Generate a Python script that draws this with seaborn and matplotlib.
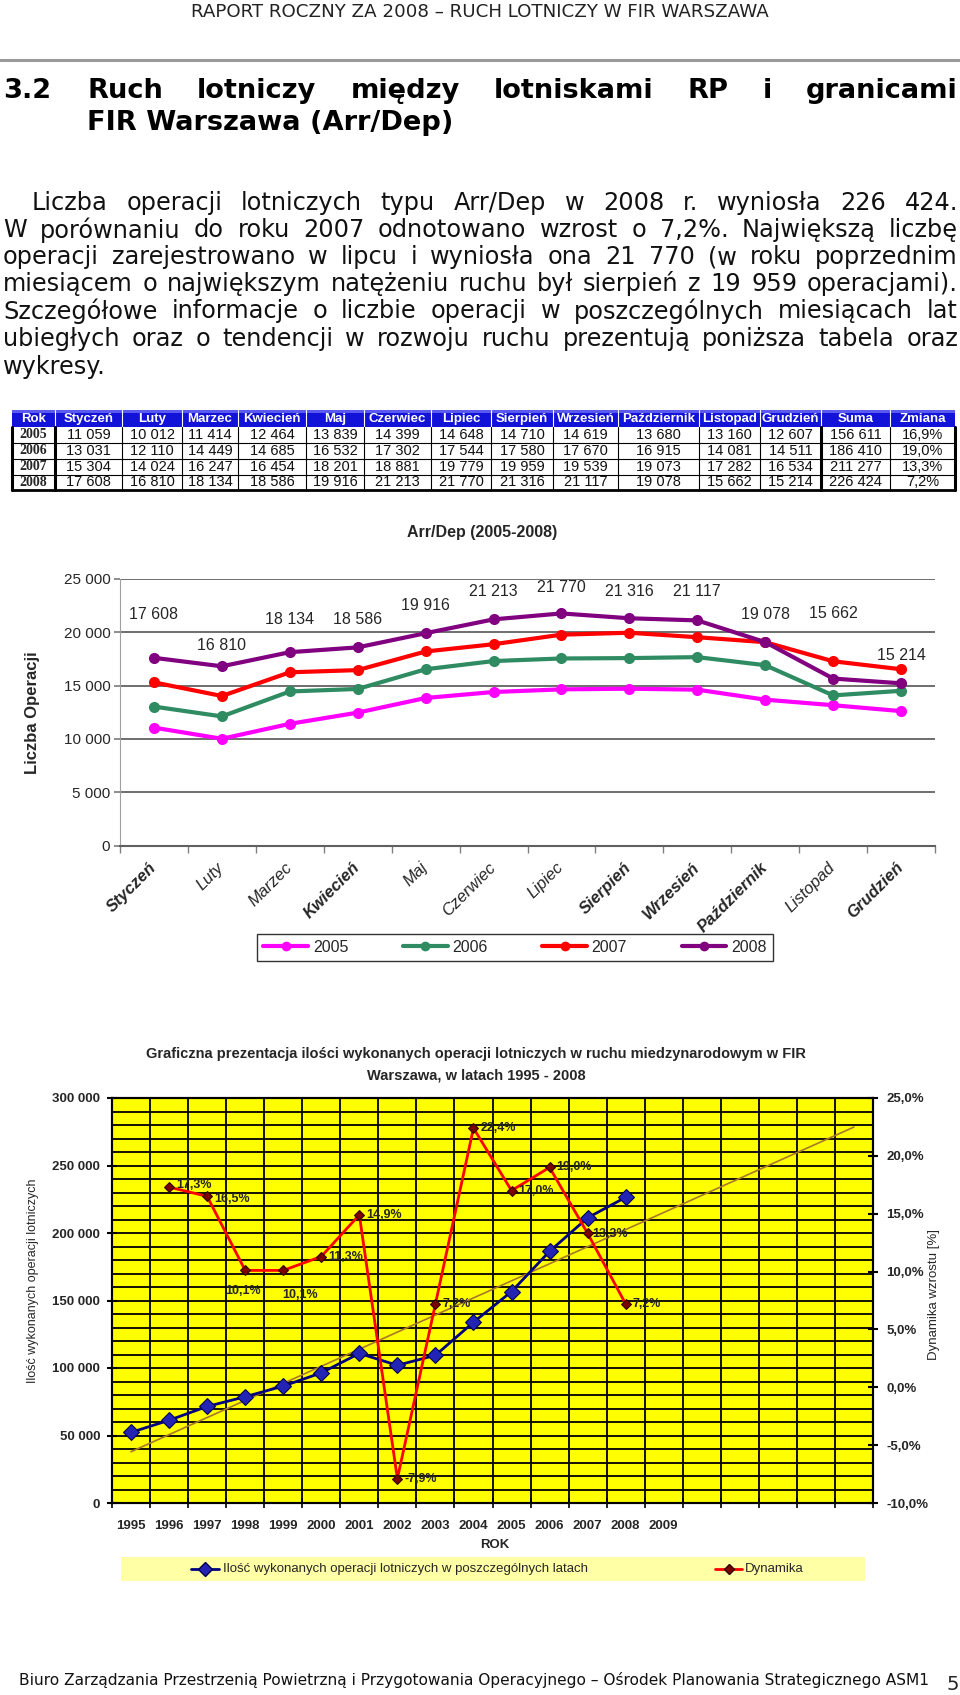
import numpy as np
import pandas as pd
import matplotlib
matplotlib.use("Agg")
import matplotlib.pyplot as plt
import seaborn as sns
from matplotlib.lines import Line2D
from matplotlib.patches import Rectangle

# ------------------------------------------------------------------ data
months = ["Styczeń", "Luty", "Marzec", "Kwiecień", "Maj", "Czerwiec", "Lipiec",
          "Sierpień", "Wrzesień", "Październik", "Listopad", "Grudzień"]
years_monthly = [2005, 2006, 2007, 2008]
ops_2005 = [11059, 10012, 11414, 12464, 13839, 14399, 14648, 14710, 14619, 13680, 13160, 12607]
ops_2006 = [13031, 12110, 14449, 14685, 16532, 17302, 17544, 17580, 17670, 16915, 14081, 14511]
ops_2007 = [15304, 14024, 16247, 16454, 18201, 18881, 19779, 19959, 19539, 19073, 17282, 16534]
ops_2008 = [17608, 16810, 18134, 18586, 19916, 21213, 21770, 21316, 21117, 19078, 15662, 15214]
year_sums = [156611, 186410, 211277, 226424]
year_change = [16.9, 19.0, 13.3, 7.2]

years_annual = [1995, 1996, 1997, 1998, 1999, 2000, 2001, 2002, 2003, 2004, 2005, 2006, 2007, 2008]
ops_annual = [52300, 61300, 71500, 78700, 86600, 96400, 110800, 102000, 109400, 133900,
              156611, 186410, 211277, 226424]
dyn_years = [1996, 1997, 1998, 1999, 2000, 2001, 2002, 2003, 2004, 2005, 2006, 2007, 2008]
dyn_values = [17.3, 16.5, 10.1, 10.1, 11.3, 14.9, -7.9, 7.2, 22.4, 17.0, 19.0, 13.3, 7.2]
axis_years = list(range(1995, 2015))          # 20 category bands on the x axis
axis_year_labels = [str(y) if y <= 2009 else "" for y in axis_years]

# ------------------------------------------------------------------ layout / style
sns.set_theme(style="white")
plt.rcParams["font.family"] = ["Liberation Sans", "DejaVu Sans"]
W, H, DPI = 960, 1695, 100
fig = plt.figure(figsize=(W / DPI, H / DPI), dpi=DPI)
fig.patch.set_facecolor("white")

page = fig.add_axes([0, 0, 1, 1])
page.set_xlim(0, W)
page.set_ylim(H, 0)
page.axis("off")
R = fig.canvas.get_renderer()


def add_axes_px(x0, y0, x1, y1):
    return fig.add_axes([x0 / W, 1 - y1 / H, (x1 - x0) / W, (y1 - y0) / H])


def measure(s, **kw):
    t = page.text(0, 0, s, **kw)
    w = t.get_window_extent(renderer=R).width
    t.remove()
    return w


def fit_size(s, width, **kw):
    return 10 * width / measure(s, fontsize=10, **kw)


def justify(line, x0, x1, y, **kw):
    words = line.split(" ")
    widths = [measure(w, **kw) for w in words]
    gap = (x1 - x0 - sum(widths)) / max(len(words) - 1, 1)
    x = x0
    for w, wd in zip(words, widths):
        page.text(x, y, w, ha="left", va="center", **kw)
        x += wd + gap


def fmt_int(v):
    return f"{v:,}".replace(",", " ")


SANS = ["DejaVu Sans"]

# ------------------------------------------------------------------ page header
hdr = "RAPORT ROCZNY ZA 2008 – RUCH LOTNICZY W FIR WARSZAWA"
page.text(480, 12, hdr, ha="center", va="center", family=SANS,
          fontsize=fit_size(hdr, 579, family=SANS), color="#222222")
page.plot([0, W], [60, 60], color="#9a9a9a", lw=2.2)

hkw = dict(family=SANS, fontweight="bold", color="black")
hsize = fit_size("FIR Warszawa (Arr/Dep)", 368, **hkw)
page.text(3, 91, "3.2", ha="left", va="center", fontsize=hsize, **hkw)
justify("Ruch lotniczy między lotniskami RP i granicami", 87, 958, 91, fontsize=hsize, **hkw)
page.text(87, 123, "FIR Warszawa (Arr/Dep)", ha="left", va="center", fontsize=hsize, **hkw)

para = [
    "Liczba operacji lotniczych typu Arr/Dep w 2008 r. wyniosła 226 424.",
    "W porównaniu do roku 2007 odnotowano wzrost o 7,2%. Największą liczbę",
    "operacji zarejestrowano w lipcu i wyniosła ona 21 770 (w roku poprzednim",
    "miesiącem o największym natężeniu ruchu był sierpień z 19 959 operacjami).",
    "Szczegółowe informacje o liczbie operacji w poszczególnych miesiącach lat",
    "ubiegłych oraz o tendencji w rozwoju ruchu prezentują poniższa tabela oraz",
    "wykresy.",
]
para_y = [203, 230, 257, 284, 311, 339, 367]
psize = fit_size(para[3], 935, family=SANS)
for i, (line, y) in enumerate(zip(para, para_y)):
    if i == len(para) - 1:
        page.text(3, y, line, ha="left", va="center", family=SANS, fontsize=psize, color="#111111")
    else:
        justify(line, 32 if i == 0 else 3, 958, y, family=SANS, fontsize=psize, color="#111111")

# ------------------------------------------------------------------ table
col_x = [12, 55, 122, 182, 238, 306, 364, 431, 491, 553, 618, 699, 760, 821, 890, 955]
row_y = [410, 427, 443, 459, 475, 490]
headers = ["Rok"] + months + ["Suma", "Zmiana"]
page.add_patch(Rectangle((col_x[0], row_y[0]), col_x[-1] - col_x[0], row_y[1] - row_y[0],
                         fc="#1212D8", ec="none"))
page.add_patch(Rectangle((col_x[0], row_y[0]), col_x[-1] - col_x[0], 3, fc="#5a5af0", ec="none"))
for j, h in enumerate(headers):
    cx = (col_x[j] + col_x[j + 1]) / 2
    page.text(cx, (row_y[0] + row_y[1]) / 2 + 0.5, h, ha="center", va="center",
              color="white", fontweight="bold", fontsize=9.5)
    if j > 0:
        page.plot([col_x[j], col_x[j]], [row_y[0], row_y[1]], color="white", lw=0.8)
monthly = [ops_2005, ops_2006, ops_2007, ops_2008]
for i, yr in enumerate(years_monthly):
    cy = (row_y[i + 1] + row_y[i + 2]) / 2
    cells = [str(yr)] + [fmt_int(v) for v in monthly[i]] + [fmt_int(year_sums[i]),
                                                            f"{year_change[i]:.1f}%".replace(".", ",")]
    for j, c in enumerate(cells):
        cx = (col_x[j] + col_x[j + 1]) / 2
        if j == 0:
            page.text(cx, cy, c, ha="center", va="center", family=["Liberation Serif"],
                      fontweight="bold", fontsize=10)
        else:
            page.text(cx, cy, c, ha="center", va="center", fontsize=10.5, color="#111111")
for y in row_y[2:-1]:
    page.plot([col_x[0], col_x[-1]], [y, y], color="black", lw=0.8)
page.plot([col_x[0], col_x[-1]], [row_y[-1], row_y[-1]], color="black", lw=2)
for j, x in enumerate(col_x):
    lw = 2.2 if j in (0, 1, 13, 15) else 0.8
    page.plot([x, x], [row_y[1], row_y[-1]], color="black", lw=lw)

# ------------------------------------------------------------------ chart 1: Arr/Dep monthly
pal = {2005: "#FF00FF", 2006: "#2E8B62", 2007: "#FF0000", 2008: "#800080"}
long = pd.DataFrame({
    "idx": np.tile(np.arange(len(months)), len(years_monthly)),
    "value": ops_2005 + ops_2006 + ops_2007 + ops_2008,
    "year": np.repeat(years_monthly, len(months)),
})
ax1 = add_axes_px(120, 579, 935, 845.5)
sns.lineplot(data=long, x="idx", y="value", hue="year", palette=pal, marker="o",
             markersize=8, markeredgewidth=0, linewidth=3, legend=False, ax=ax1, sort=False)
ax1.set_xlim(-0.5, len(months) - 0.5)
ax1.set_ylim(0, 25000)
ax1.set_yticks(range(0, 25001, 5000))
ax1.set_yticklabels([fmt_int(v) for v in range(0, 25001, 5000)], fontsize=11)
ax1.set_xticks(np.arange(len(months)))
ax1.set_xticklabels(months, rotation=45, ha="right", va="center", rotation_mode="anchor",
                    fontstyle="italic", fontsize=12)
for lbl in ax1.get_xticklabels():
    if any(ch in lbl.get_text() for ch in "ńź"):
        lbl.set_fontweight("bold")
ax1.set_xticks(np.arange(-0.5, len(months)), minor=True)
ax1.tick_params(axis="x", which="major", length=0, pad=14)
ax1.tick_params(axis="x", which="minor", bottom=True, length=5, color="#808080", width=1)
ax1.tick_params(axis="y", left=True, length=4, color="#808080", pad=3)
ax1.grid(False)
ax1.grid(True, axis="y", color="#555555", lw=1.2)
ax1.set_axisbelow(True)
for s in ("top", "right"):
    ax1.spines[s].set_visible(False)
ax1.spines["left"].set_color("#a0a0a0")
ax1.spines["left"].set_linewidth(0.8)
ax1.spines["bottom"].set_color("#606060")
ax1.spines["bottom"].set_linewidth(1.5)
ax1.set_xlabel("")
ax1.set_ylabel("")

label_offsets_px = [43, 21, 33, 28, 28, 28, 26, 27, 29, 28, 65, 28]
for i, v in enumerate(ops_2008):
    ax1.annotate(fmt_int(v), xy=(i, v), xytext=(0, label_offsets_px[i] * 0.72),
                 textcoords="offset points", ha="center", va="center", fontsize=11.5)

page.text(482, 532, "Arr/Dep (2005-2008)", ha="center", va="center",
          fontweight="bold", fontsize=11.5)
page.text(32, 713, "Liczba Operacji", ha="center", va="center", rotation=90,
          fontweight="bold", fontsize=12)

handles = [Line2D([0], [0], color=pal[y], lw=3, marker="o", ms=7, mew=0) for y in years_monthly]
leg1 = fig.legend(handles, [str(y) for y in years_monthly], loc="center",
                  bbox_to_anchor=(257 / W, 1 - 965 / H, 516 / W, 35 / H), mode="expand",
                  ncol=4, frameon=True, fancybox=False, edgecolor="black",
                  handlelength=2.8, handletextpad=0.3, fontsize=11.5, borderaxespad=0)
leg1.get_frame().set_linewidth(1)

# ------------------------------------------------------------------ chart 2: annual traffic
t1 = "Graficzna prezentacja ilości wykonanych operacji lotniczych w ruchu miedzynarodowym w FIR"
t2 = "Warszawa, w latach 1995 - 2008"
page.text(476, 1054, t1, ha="center", va="center", fontweight="bold", fontsize=10.5)
page.text(476, 1076, t2, ha="center", va="center", fontweight="bold", fontsize=10.5)

ax2 = add_axes_px(112, 1098, 873, 1503)
ax2.set_facecolor("#FFFF00")
ann = pd.DataFrame({"idx": [axis_years.index(y) for y in years_annual], "ops": ops_annual})
trend = np.polyfit(ann["idx"], ann["ops"], 1)
tx = np.array([0, len(axis_years) - 1])
ax2.plot(tx, np.polyval(trend, tx), color="#A8782A", lw=1.2, zorder=3)
sns.lineplot(data=ann, x="idx", y="ops", color="#000080", lw=2, marker="D", markersize=8,
             markerfacecolor="#2424B4", markeredgecolor="#000050", ax=ax2, zorder=4)
ax2.set_xlim(-0.5, len(axis_years) - 0.5)
ax2.set_ylim(0, 300000)
ax2.set_yticks(range(0, 300001, 50000))
ax2.set_yticklabels([fmt_int(v) for v in range(0, 300001, 50000)], fontsize=9.5, fontweight="bold")
ax2.set_yticks(range(0, 300001, 10000), minor=True)
ax2.set_xticks(np.arange(len(axis_years)))
ax2.set_xticklabels(axis_year_labels, fontsize=9.5, fontweight="bold")
ax2.set_xticks(np.arange(-0.5, len(axis_years)), minor=True)
ax2.grid(False)
ax2.grid(True, which="both", axis="y", color="black", lw=1.3)
ax2.grid(True, which="minor", axis="x", color="black", lw=1.3)
ax2.set_axisbelow(True)
ax2.tick_params(axis="y", which="major", left=True, length=7, width=1.5, direction="inout", color="black", pad=5)
ax2.tick_params(axis="y", which="minor", left=False, length=0)
ax2.tick_params(axis="x", which="major", bottom=False, length=0, pad=12)
ax2.tick_params(axis="x", which="minor", bottom=True, length=7, width=1.2, direction="inout", color="black")
ax2.set_xlabel("")
ax2.set_ylabel("")

ax3 = ax2.twinx()
dyn = pd.DataFrame({"idx": [axis_years.index(y) for y in dyn_years], "dyn": dyn_values})
sns.lineplot(data=dyn, x="idx", y="dyn", color="#FF0000", lw=2, marker="D", markersize=5,
             markerfacecolor="#7A0000", markeredgecolor="#300000", ax=ax3)
ax3.set_ylim(-10, 25)
ax3.set_yticks(range(-10, 26, 5))
ax3.set_yticklabels([f"{v:.1f}%".replace(".", ",") for v in range(-10, 26, 5)],
                    fontsize=9.5, fontweight="bold")
ax3.tick_params(axis="y", right=True, length=7, width=1.5, direction="inout", color="black", pad=6)
ax3.grid(False)
ax3.set_ylabel("")
ax3.set_xlabel("")
for a in (ax2, ax3):
    for s in a.spines.values():
        s.set_color("black")
        s.set_linewidth(1.5)

dyn_label_offsets_px = [(7, -2), (7, 3), (-20, 21), (-1, 25), (7, 0), (7, 0), (7, 0),
                        (7, 0), (7, 0), (7, 0), (7, 0), (5, 1), (7, 0)]
for (i, v), (dx, dy) in zip(zip(dyn["idx"], dyn_values), dyn_label_offsets_px):
    ax3.annotate(f"{v:.1f}%".replace(".", ","), xy=(i, v), xytext=(dx * 0.72, -dy * 0.72),
                 textcoords="offset points", ha="left", va="center", fontsize=9, fontweight="bold")

page.text(33, 1281, "Ilość wykonanych operacji lotniczych", ha="center", va="center",
          rotation=90, fontsize=9)
page.text(934, 1295, "Dynamika wzrostu [%]", ha="center", va="center", rotation=90, fontsize=9.5)
page.text(495, 1545, "ROK", ha="center", va="center", fontweight="bold", fontsize=9.5)

# legend of chart 2
page.add_patch(Rectangle((121, 1557), 744, 24, fc="#FFFFA6", ec="none"))
page.plot([191, 219], [1569, 1569], color="#000080", lw=2)
page.plot([205], [1569], marker="D", ms=7, mfc="#2424B4", mec="#000050")
page.text(223, 1569, "Ilość wykonanych operacji lotniczych w poszczególnych latach",
          ha="left", va="center", fontsize=9.5)
page.plot([715, 742], [1569, 1569], color="#FF0000", lw=2)
page.plot([728.5], [1569], marker="D", ms=5, mfc="#7A0000", mec="#300000")
page.text(745, 1569, "Dynamika", ha="left", va="center", fontsize=9.5)

# ------------------------------------------------------------------ footer
foot = "Biuro Zarządzania Przestrzenią Powietrzną i Przygotowania Operacyjnego – Ośrodek Planowania Strategicznego ASM1"
page.text(19, 1680, foot, ha="left", va="center", family=SANS,
          fontsize=fit_size(foot, 908, family=SANS), color="#111111")
page.text(947, 1684, "5", ha="left", va="center", family=SANS, fontsize=14)

fig.savefig("out.png", dpi=DPI, facecolor="white")
